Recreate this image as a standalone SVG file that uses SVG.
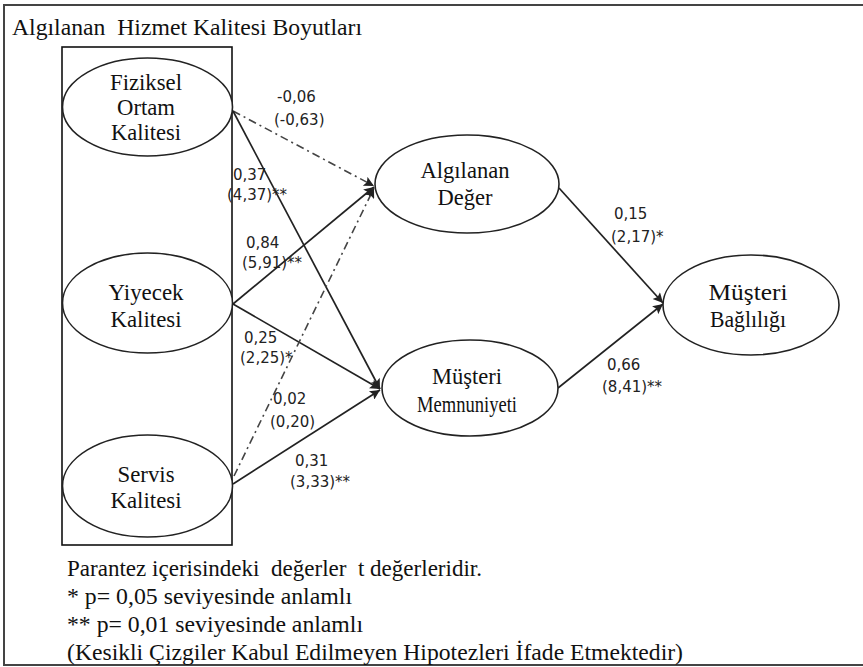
<svg xmlns="http://www.w3.org/2000/svg" width="863" height="667" viewBox="0 0 863 667">
<style>
.node{fill:#fff;stroke:#222;stroke-width:1.6}
.box{fill:none;stroke:#111;stroke-width:1.6}
.nt{font-family:"Liberation Serif","Times New Roman",serif;font-size:24px;fill:#111;text-anchor:middle}
.lb{font-family:"DejaVu Sans",Verdana,sans-serif;font-size:15px;fill:#222}
.ft{font-family:"Liberation Serif","Times New Roman",serif;font-size:23.5px;fill:#111}
.solid{fill:none;stroke:#222;stroke-width:1.7}
.dash{fill:none;stroke:#444;stroke-width:1.6;stroke-dasharray:8 4 2 4}
</style>
<defs>
<marker id="ah" viewBox="0 0 10 10" refX="10" refY="5" markerWidth="11" markerHeight="10" markerUnits="userSpaceOnUse" orient="auto">
<path d="M0,0 L10,5 L0,10 L2,5 z" fill="#222"/>
</marker>
</defs>
<rect x="4" y="5" width="880" height="660" fill="#fff" stroke="#444" stroke-width="2"/>
<text class="ft" x="12" y="35" font-size="24.5" textLength="350" lengthAdjust="spacingAndGlyphs" xml:space="preserve">Algılanan  Hizmet Kalitesi Boyutları</text>
<g id="dimensions-box"><rect class="box" x="62" y="47" width="170" height="498"/></g>
<g id="connectors">
<line class="dash" x1="233" y1="111" x2="374" y2="186" marker-end="url(#ah)"/>
<line class="solid" x1="233" y1="111" x2="380" y2="389" marker-end="url(#ah)"/>
<line class="solid" x1="233" y1="304" x2="374" y2="187" marker-end="url(#ah)"/>
<line class="solid" x1="233" y1="304" x2="380" y2="389" marker-end="url(#ah)"/>
<line class="dash" x1="234" y1="476" x2="374" y2="188" marker-end="url(#ah)"/>
<line class="solid" x1="233" y1="484" x2="380" y2="390" marker-end="url(#ah)"/>
<line class="solid" x1="559" y1="188" x2="663" y2="303" marker-end="url(#ah)"/>
<line class="solid" x1="558" y1="388" x2="663" y2="304" marker-end="url(#ah)"/>
</g>
<g id="fiziksel-ortam-kalitesi">
<ellipse class="node" cx="147.5" cy="107" rx="85" ry="49"/>
<text class="nt" x="146" y="90" textLength="72" lengthAdjust="spacingAndGlyphs">Fiziksel</text>
<text class="nt" x="146" y="115" textLength="58" lengthAdjust="spacingAndGlyphs">Ortam</text>
<text class="nt" x="146" y="140" textLength="70" lengthAdjust="spacingAndGlyphs">Kalitesi</text>
</g>
<g id="yiyecek-kalitesi">
<ellipse class="node" cx="147.5" cy="303" rx="85" ry="50"/>
<text class="nt" x="146" y="300" textLength="75" lengthAdjust="spacingAndGlyphs">Yiyecek</text>
<text class="nt" x="146" y="327" textLength="71" lengthAdjust="spacingAndGlyphs">Kalitesi</text>
</g>
<g id="servis-kalitesi">
<ellipse class="node" cx="147.5" cy="486" rx="85" ry="51"/>
<text class="nt" x="146" y="482" textLength="57" lengthAdjust="spacingAndGlyphs">Servis</text>
<text class="nt" x="146" y="508" textLength="71" lengthAdjust="spacingAndGlyphs">Kalitesi</text>
</g>
<g id="algilanan-deger">
<ellipse class="node" cx="467" cy="184" rx="92" ry="49"/>
<text class="nt" x="465" y="178" textLength="89" lengthAdjust="spacingAndGlyphs">Algılanan</text>
<text class="nt" x="465" y="205" textLength="55" lengthAdjust="spacingAndGlyphs">Değer</text>
</g>
<g id="musteri-memnuniyeti">
<ellipse class="node" cx="470" cy="388" rx="88" ry="48"/>
<text class="nt" x="467" y="384" textLength="70" lengthAdjust="spacingAndGlyphs">Müşteri</text>
<text class="nt" x="467" y="412" font-size="15" textLength="100" lengthAdjust="spacingAndGlyphs">Memnuniyeti</text>
</g>
<g id="musteri-bagliligi">
<ellipse class="node" cx="751" cy="305" rx="88" ry="50"/>
<text class="nt" x="748" y="300" font-size="25.5" textLength="79" lengthAdjust="spacingAndGlyphs">Müşteri</text>
<text class="nt" x="748" y="327" font-size="25.5" textLength="76" lengthAdjust="spacingAndGlyphs">Bağlılığı</text>
</g>
<g id="labels">
<text class="lb" x="277" y="102">-0,06</text>
<text class="lb" x="274" y="125">(-0,63)</text>
<text class="lb" x="233" y="180">0,37</text>
<text class="lb" x="227" y="200">(4,37)**</text>
<text class="lb" x="246" y="248">0,84</text>
<text class="lb" x="242" y="268">(5,91)**</text>
<text class="lb" x="244" y="343">0,25</text>
<text class="lb" x="240" y="363">(2,25)*</text>
<text class="lb" x="273" y="404">0,02</text>
<text class="lb" x="270" y="427">(0,20)</text>
<text class="lb" x="295" y="466">0,31</text>
<text class="lb" x="290" y="487">(3,33)**</text>
<text class="lb" x="614" y="219">0,15</text>
<text class="lb" x="611" y="242">(2,17)*</text>
<text class="lb" x="607" y="370">0,66</text>
<text class="lb" x="602" y="392">(8,41)**</text>
</g>
<g id="notes">
<text class="ft" x="67" y="576" textLength="415" lengthAdjust="spacingAndGlyphs" xml:space="preserve">Parantez içerisindeki  değerler  t değerleridir.</text>
<text class="ft" x="67" y="604" textLength="285" lengthAdjust="spacingAndGlyphs">* p= 0,05 seviyesinde anlamlı</text>
<text class="ft" x="67" y="632" textLength="296" lengthAdjust="spacingAndGlyphs">** p= 0,01 seviyesinde anlamlı</text>
<text class="ft" x="67" y="660" textLength="616" lengthAdjust="spacingAndGlyphs">(Kesikli Çizgiler Kabul Edilmeyen Hipotezleri İfade Etmektedir)</text>
</g>
</svg>
